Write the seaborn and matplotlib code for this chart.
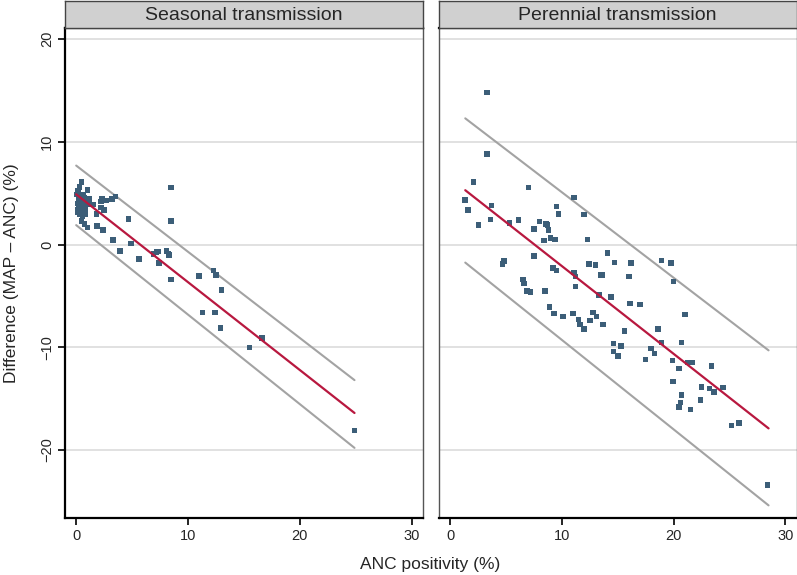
import numpy as np
import pandas as pd
import matplotlib
matplotlib.use("Agg")
import matplotlib.pyplot as plt
import seaborn as sns

# ---- data ----
seasonal_x = [0.47, 0.3, 0.18, 1.0, 0.03, 1.2, 1.5, 2.3, 2.2, 2.7, 3.2, 3.5, 2.2, 2.5, 1.8,
              4.7, 8.5, 8.5, 0.47, 0.74, 1.0, 1.85, 2.4, 3.3, 4.9, 3.9, 7.2, 8.1, 8.25,
              5.6, 6.9, 7.3, 8.3, 7.4, 8.5, 11.0, 12.3, 12.5, 13.0, 11.3, 12.4, 12.9,
              16.6, 15.5, 24.9,
              0.1, 0.2, 0.3, 0.4, 0.2, 0.5, 0.6, 0.7, 0.3, 0.5, 0.8, 0.9, 0.1, 0.4,
              0.6, 0.2, 0.7, 1.0, 0.35, 0.55, 0.15, 0.45, 0.25, 0.75, 0.85]
seasonal_y = [6.1, 5.6, 5.2, 5.3, 4.9, 4.45, 3.9, 4.5, 4.2, 4.3, 4.45, 4.7, 3.6, 3.35, 3.0,
              2.5, 5.55, 2.3, 2.3, 2.0, 1.65, 1.8, 1.43, 0.46, 0.1, -0.6, -0.7, -0.6, -0.9,
              -1.4, -0.9, -0.65, -1.0, -1.8, -3.4, -3.05, -2.5, -2.95, -4.4, -6.6, -6.6, -8.1,
              -9.1, -10.0, -18.1,
              3.2, 3.6, 3.9, 4.2, 4.5, 3.4, 3.8, 4.1, 3.0, 4.6, 3.5, 4.4, 4.0, 3.1,
              4.9, 5.0, 3.2, 3.9, 4.8, 2.8, 3.4, 3.7, 4.3, 4.6, 3.0]

perennial_x = [3.3, 3.3, 2.1, 7.0, 1.35, 1.6, 3.7, 2.55, 3.6, 5.3, 6.1, 11.1, 9.5, 9.7, 12.0,
               8.0, 7.5, 8.6, 8.7, 8.8, 8.4, 9.0, 9.4, 12.3, 4.8, 4.7, 7.5, 9.2, 9.5, 11.1,
               11.2, 11.2, 14.1, 14.7, 12.45, 13.0, 13.5, 6.5, 6.6, 6.9, 7.2, 8.5, 13.3, 14.4,
               16.2, 18.9, 19.75, 20.0, 16.0, 13.6, 16.1, 17.0, 21.0, 13.7, 15.6, 18.6, 14.6,
               14.6, 15.0, 15.3, 18.9, 20.7, 18.0, 18.3, 17.5, 19.9, 20.5, 21.3, 21.7, 23.4,
               19.95, 22.5, 23.2, 23.6, 24.4, 20.7, 20.6, 20.5, 22.4, 21.5, 25.2, 25.85, 28.4,
               8.9, 9.3, 10.1, 11.0, 11.5, 11.6, 12.0, 12.5, 12.8, 13.1]
perennial_y = [14.8, 8.8, 6.1, 5.55, 4.35, 3.35, 3.8, 1.9, 2.45, 2.1, 2.4, 4.6, 3.7, 3.0, 2.95,
               2.25, 1.5, 2.0, 1.9, 1.4, 0.4, 0.65, 0.5, 0.5, -1.6, -1.9, -1.1, -2.3, -2.5, -2.7,
               -3.1, -4.1, -0.8, -1.75, -1.9, -2.0, -2.95, -3.4, -3.8, -4.5, -4.6, -4.5, -4.9, -5.1,
               -1.8, -1.55, -1.8, -3.6, -3.1, -2.95, -5.75, -5.85, -6.8, -7.8, -8.4, -8.2, -9.65,
               -10.4, -10.85, -9.9, -9.55, -9.55, -10.1, -10.6, -11.2, -11.3, -12.05, -11.5, -11.5, -11.8,
               -13.35, -13.85, -14.0, -14.35, -13.9, -14.65, -15.4, -15.8, -15.15, -16.05, -17.6, -17.35, -23.4,
               -6.1, -6.7, -7.0, -6.7, -7.3, -7.8, -8.2, -7.4, -6.6, -7.0]

# fitted line and prediction band endpoints
seasonal_fit_x = [0.0, 24.9]
seasonal_fit = [4.9, -16.4]
seasonal_upper = [7.7, -13.2]
seasonal_lower = [1.9, -19.8]

perennial_fit_x = [1.35, 28.5]
perennial_fit = [5.3, -17.9]
perennial_upper = [12.3, -10.3]
perennial_lower = [-1.75, -25.4]

panel_titles = ["Seasonal transmission", "Perennial transmission"]
x_ticks = [0, 10, 20, 30]
y_ticks = [-20, -10, 0, 10, 20]

sns.set_theme(style="white")
plt.rcParams["font.family"] = ["Liberation Sans", "DejaVu Sans"]

point_col = "#3c5e78"
fit_col = "#b8183f"
band_col = "#a3a3a3"

fig = plt.figure(figsize=(7.97, 5.75), dpi=100)
W, H = 797, 575
panels = [(65, 422.7), (439, 796.5)]
top, bottom = 28, 517.7

datasets = [
    (seasonal_x, seasonal_y, seasonal_fit_x, seasonal_fit, seasonal_upper, seasonal_lower),
    (perennial_x, perennial_y, perennial_fit_x, perennial_fit, perennial_upper, perennial_lower),
]

for i, ((x0, x1), (xs, ys, fx, fy, fu, fl)) in enumerate(zip(panels, datasets)):
    ax = fig.add_axes([x0 / W, 1 - bottom / H, (x1 - x0) / W, (bottom - top) / H])
    for gy in y_ticks:
        ax.axhline(gy, color="#dedede", lw=1.3, zorder=0)
    df = pd.DataFrame({"x": xs, "y": ys})
    lines = pd.DataFrame({"x": fx * 3, "y": fy + fu + fl,
                          "kind": ["fit"] * 2 + ["upper"] * 2 + ["lower"] * 2})
    sns.lineplot(data=lines[lines.kind != "fit"], x="x", y="y", units="kind",
                 estimator=None, color=band_col, lw=1.5, ax=ax, zorder=2)
    sns.scatterplot(data=df, x="x", y="y", marker="s", s=16, color=point_col,
                    edgecolor="none", linewidth=0, ax=ax, zorder=3)
    sns.lineplot(data=lines[lines.kind == "fit"], x="x", y="y",
                 estimator=None, color=fit_col, lw=1.6, ax=ax, zorder=4)

    ax.set_xlim(-1, 31)
    ax.set_ylim(-26.6, 21.1)
    ax.set_xticks(x_ticks)
    ax.set_yticks(y_ticks)
    ax.set_xlabel("")
    ax.set_ylabel("")
    ax.tick_params(axis="x", length=5, width=1.2, color="black", labelsize=10.5, pad=3,
                   bottom=True)
    ax.spines["bottom"].set_color("black")
    ax.spines["bottom"].set_linewidth(1.6)
    ax.spines["top"].set_color("black")
    ax.spines["top"].set_linewidth(1.6)
    ax.spines["right"].set_color("#555555")
    ax.spines["right"].set_linewidth(1.0)
    if i == 0:
        ax.spines["left"].set_color("black")
        ax.spines["left"].set_linewidth(1.6)
        ax.tick_params(axis="y", length=5, width=1.2, color="black", labelsize=10.5,
                       pad=3, left=True)
        for lab in ax.get_yticklabels():
            lab.set_rotation(90)
            lab.set_va("center")
    else:
        ax.spines["left"].set_color("#555555")
        ax.spines["left"].set_linewidth(1.0)
        ax.set_yticklabels([])
        ax.tick_params(axis="y", left=False)

    # strip header
    sax = fig.add_axes([x0 / W, 1 - top / H, (x1 - x0) / W, (top - 1) / H])
    sax.set_facecolor("#d0d0d0")
    sax.set_xticks([])
    sax.set_yticks([])
    for sp in sax.spines.values():
        sp.set_color("#444444")
        sp.set_linewidth(1.0)
    sax.text(0.5, 0.45, panel_titles[i], ha="center", va="center", fontsize=14,
             transform=sax.transAxes)

fig.text(12 / W, 1 - 273 / H, "Difference (MAP \u2013 ANC) (%)", rotation=90,
         ha="center", va="center", fontsize=12.5)
fig.text(430 / W, 1 - 565 / H, "ANC positivity (%)", ha="center", va="center",
         fontsize=12.5)

fig.savefig("out.png", dpi=100)
